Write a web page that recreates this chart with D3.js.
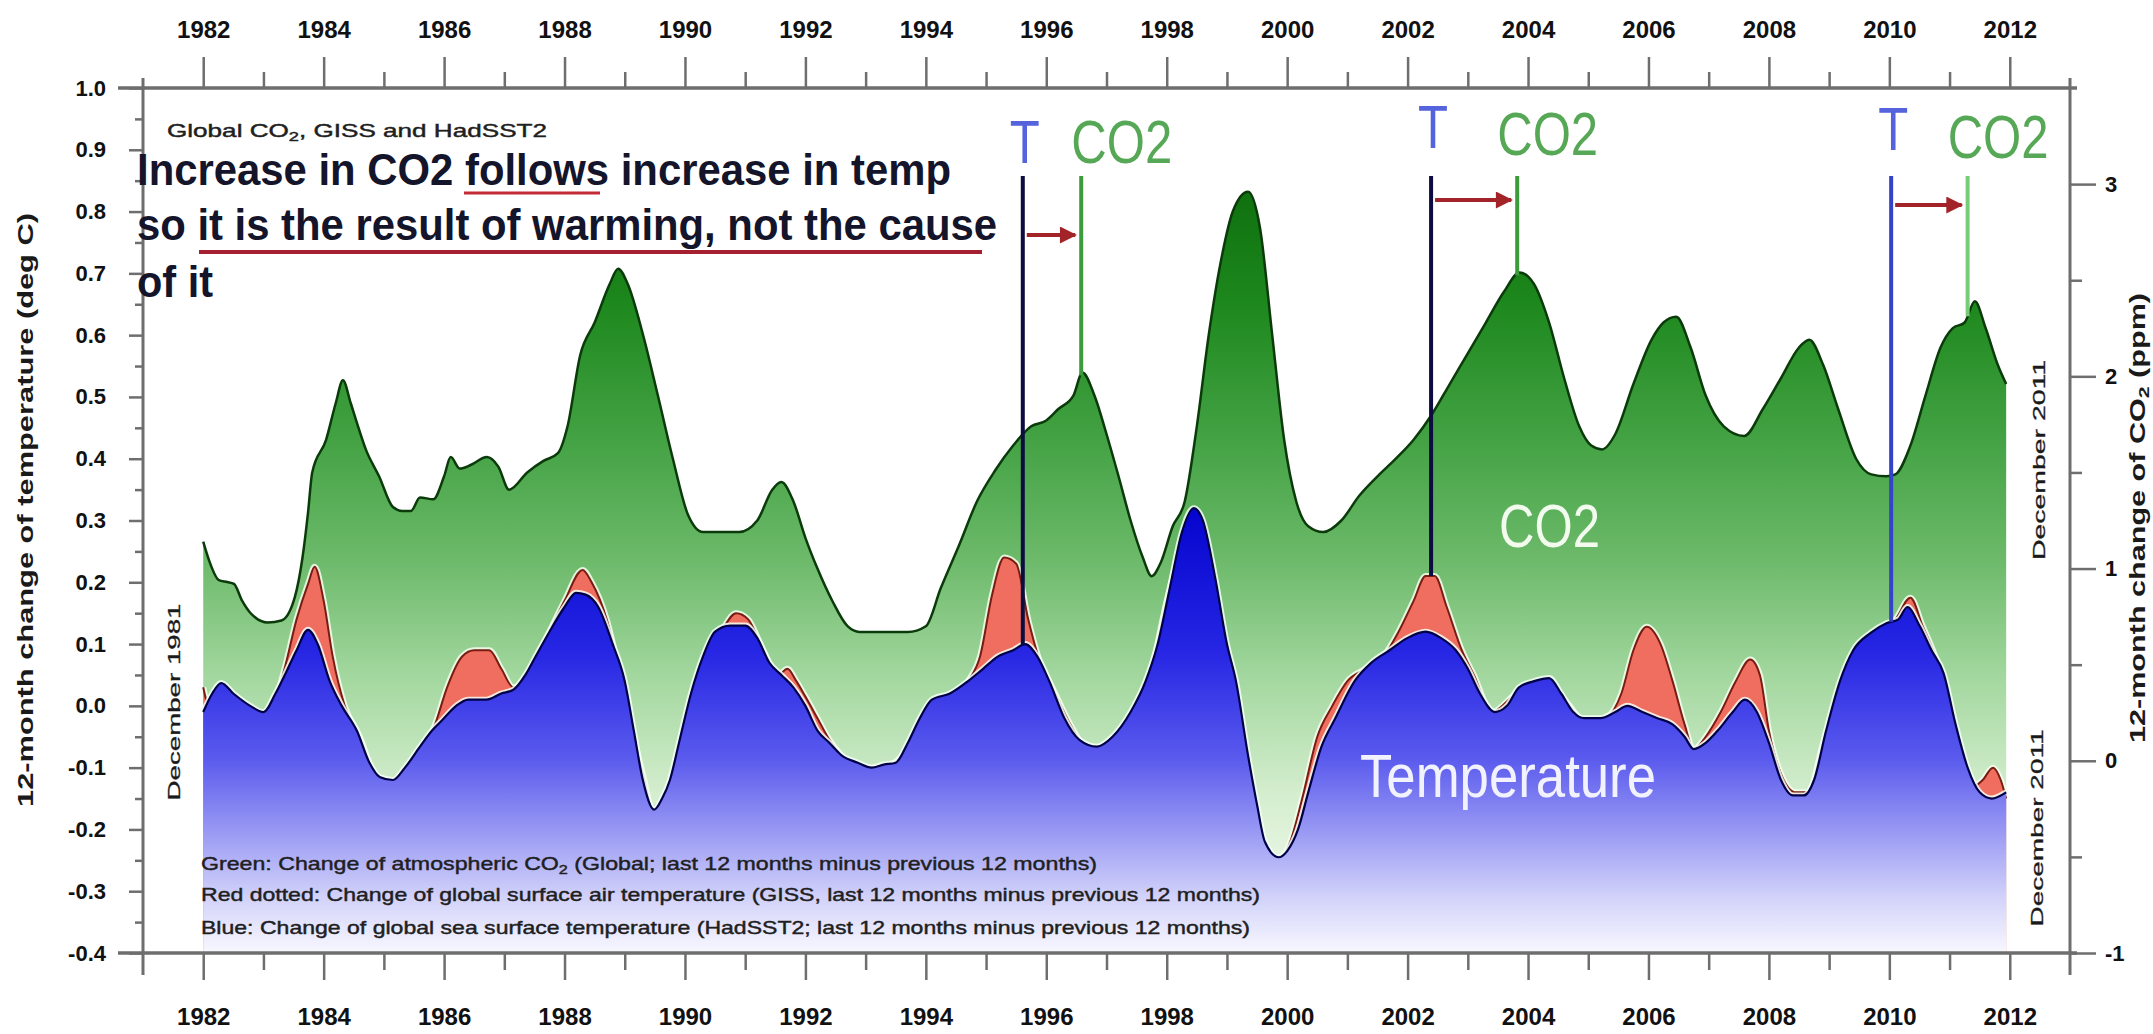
<!DOCTYPE html>
<html><head><meta charset="utf-8">
<script src="https://cdn.jsdelivr.net/npm/d3@7"></script>
<style>
html,body{margin:0;padding:0;background:#fff;}
svg{display:block;}
text{font-family:"Liberation Sans",Arial,sans-serif;}
</style></head><body>
<svg id="chart" width="2153" height="1034"></svg>
<script>
// ---------------- DATA ----------------
const yearTicks = [1982,1984,1986,1988,1990,1992,1994,1996,1998,2000,2002,2004,2006,2008,2010,2012];
const yearMinor = [1983,1985,1987,1989,1991,1993,1995,1997,1999,2001,2003,2005,2007,2009,2011];
const tempTicks = [1.0,0.9,0.8,0.7,0.6,0.5,0.4,0.3,0.2,0.1,0.0,-0.1,-0.2,-0.3,-0.4];
const co2Ticks = [3,2,1,0,-1];

// Green: 12-month change of atmospheric CO2 (ppm), right axis
const co2 = [
[1982.00,1.14],[1982.10,1.04],[1982.26,0.94],[1982.40,0.93],[1982.51,0.92],[1982.65,0.83],[1982.78,0.77],
[1983.07,0.72],[1983.30,0.73],[1983.52,0.85],[1983.65,1.06],[1983.74,1.29],[1983.81,1.50],[1984.04,1.67],
[1984.20,1.86],[1984.32,1.98],[1984.45,1.86],[1984.55,1.76],[1984.70,1.62],[1984.92,1.48],[1985.15,1.32],
[1985.30,1.30],[1985.45,1.30],[1985.60,1.37],[1985.82,1.36],[1986.00,1.48],[1986.11,1.58],[1986.26,1.52],
[1986.45,1.54],[1986.71,1.58],[1986.90,1.53],[1987.08,1.41],[1987.38,1.50],[1987.65,1.56],[1987.89,1.60],
[1988.05,1.74],[1988.26,2.11],[1988.50,2.28],[1988.75,2.48],[1988.89,2.56],[1989.05,2.48],[1989.30,2.22],
[1989.55,1.90],[1989.80,1.57],[1990.05,1.28],[1990.30,1.19],[1990.60,1.19],[1990.90,1.19],[1991.20,1.25],
[1991.45,1.41],[1991.60,1.45],[1991.80,1.35],[1992.00,1.16],[1992.20,1.00],[1992.45,0.83],[1992.70,0.70],
[1992.90,0.67],[1993.30,0.67],[1993.70,0.67],[1994.00,0.70],[1994.25,0.90],[1994.55,1.12],[1994.85,1.35],
[1995.15,1.51],[1995.45,1.64],[1995.75,1.74],[1996.00,1.77],[1996.20,1.83],[1996.45,1.90],[1996.60,2.02],
[1996.80,1.90],[1997.00,1.70],[1997.20,1.48],[1997.40,1.25],[1997.60,1.06],[1997.75,0.96],[1997.90,1.03],
[1998.10,1.22],[1998.30,1.35],[1998.50,1.74],[1998.70,2.22],[1998.90,2.60],[1999.10,2.86],[1999.35,2.96],
[1999.55,2.77],[1999.75,2.22],[1999.95,1.67],[2000.15,1.35],[2000.35,1.22],[2000.60,1.19],[2000.90,1.25],
[2001.20,1.38],[2001.50,1.48],[2001.80,1.57],[2002.10,1.67],[2002.40,1.80],[2002.70,1.96],[2003.00,2.12],
[2003.30,2.28],[2003.60,2.44],[2003.86,2.54],[2004.10,2.48],[2004.35,2.28],[2004.60,1.99],[2004.85,1.74],
[2005.05,1.64],[2005.23,1.62],[2005.45,1.70],[2005.75,1.96],[2006.05,2.19],[2006.25,2.28],[2006.46,2.31],
[2006.70,2.15],[2006.95,1.90],[2007.25,1.74],[2007.59,1.69],[2007.90,1.83],[2008.20,1.99],[2008.50,2.15],
[2008.67,2.19],[2008.90,2.06],[2009.15,1.83],[2009.45,1.57],[2009.70,1.49],[2009.95,1.48],[2010.10,1.49],
[2010.35,1.64],[2010.60,1.90],[2010.85,2.15],[2011.05,2.25],[2011.25,2.28],[2011.42,2.39],[2011.60,2.25],
[2011.80,2.06],[2011.94,1.96]
];

// Red: GISS surface air temperature, 12-month change (deg C), left axis
const giss = [
[1982.00,0.03],[1982.10,0.00],[1982.20,0.01],[1982.50,0.00],[1982.80,-0.02],[1983.10,-0.01],[1983.35,0.06],
[1983.55,0.14],[1983.75,0.20],[1983.85,0.225],[1984.00,0.17],[1984.15,0.08],[1984.35,0.00],[1984.60,-0.05],
[1984.90,-0.12],[1985.20,-0.13],[1985.60,-0.08],[1985.85,-0.03],[1986.05,0.03],[1986.30,0.08],[1986.50,0.09],
[1986.75,0.09],[1986.95,0.06],[1987.15,0.03],[1987.40,0.05],[1987.70,0.11],[1988.00,0.17],[1988.30,0.22],
[1988.45,0.20],[1988.70,0.14],[1988.90,0.06],[1989.10,-0.03],[1989.30,-0.11],[1989.49,-0.175],[1989.65,-0.16],
[1989.85,-0.09],[1990.10,0.01],[1990.35,0.08],[1990.60,0.12],[1990.85,0.15],[1991.05,0.14],[1991.30,0.09],
[1991.55,0.05],[1991.70,0.06],[1991.85,0.04],[1992.00,0.015],[1992.20,-0.02],[1992.40,-0.055],[1992.60,-0.08],
[1992.90,-0.10],[1993.30,-0.10],[1993.70,-0.07],[1994.00,-0.03],[1994.40,0.01],[1994.70,0.04],[1994.90,0.08],
[1995.10,0.18],[1995.30,0.24],[1995.50,0.23],[1995.70,0.14],[1995.90,0.07],[1996.10,0.03],[1996.40,-0.03],
[1996.70,-0.07],[1997.00,-0.06],[1997.40,-0.02],[1997.70,0.04],[1998.00,0.17],[1998.30,0.28],[1998.45,0.31],
[1998.60,0.29],[1998.80,0.19],[1999.00,0.08],[1999.30,-0.08],[1999.60,-0.22],[1999.85,-0.25],[2000.05,-0.22],
[2000.25,-0.15],[2000.50,-0.05],[2000.75,0.00],[2001.00,0.04],[2001.30,0.06],[2001.60,0.08],[2001.85,0.12],
[2002.10,0.17],[2002.30,0.21],[2002.45,0.21],[2002.65,0.16],[2002.90,0.09],[2003.10,0.05],[2003.40,-0.01],
[2003.80,0.02],[2004.20,0.035],[2004.60,0.01],[2005.00,-0.03],[2005.30,-0.02],[2005.55,0.02],[2005.75,0.09],
[2005.97,0.128],[2006.20,0.10],[2006.40,0.04],[2006.60,-0.03],[2006.75,-0.07],[2006.95,-0.05],[2007.20,-0.01],
[2007.45,0.04],[2007.69,0.075],[2007.85,0.05],[2008.00,-0.04],[2008.20,-0.11],[2008.45,-0.14],[2008.65,-0.14],
[2008.90,-0.06],[2009.20,0.03],[2009.50,0.09],[2009.80,0.12],[2010.10,0.14],[2010.35,0.175],[2010.55,0.13],
[2010.80,0.07],[2011.00,0.00],[2011.20,-0.08],[2011.40,-0.13],[2011.55,-0.12],[2011.72,-0.10],[2011.85,-0.12],
[2011.94,-0.15]
];

// Blue: HadSST2 sea surface temperature, 12-month change (deg C), left axis
const hadsst = [
[1982.00,-0.01],[1982.15,0.02],[1982.30,0.037],[1982.50,0.02],[1982.78,0.00],[1983.00,-0.01],[1983.20,0.02],
[1983.37,0.053],[1983.55,0.09],[1983.74,0.123],[1983.90,0.10],[1984.10,0.04],[1984.30,0.00],[1984.55,-0.04],
[1984.75,-0.09],[1984.93,-0.115],[1985.15,-0.12],[1985.35,-0.10],[1985.60,-0.066],[1985.80,-0.04],[1985.97,-0.023],
[1986.20,0.00],[1986.40,0.01],[1986.70,0.01],[1986.95,0.02],[1987.15,0.026],[1987.35,0.05],[1987.52,0.08],
[1987.75,0.12],[1988.00,0.16],[1988.19,0.183],[1988.35,0.18],[1988.56,0.16],[1988.80,0.10],[1989.00,0.04],
[1989.15,-0.04],[1989.30,-0.12],[1989.49,-0.168],[1989.62,-0.15],[1989.75,-0.12],[1989.90,-0.06],[1990.10,0.02],
[1990.30,0.08],[1990.50,0.12],[1990.75,0.13],[1991.00,0.13],[1991.20,0.11],[1991.40,0.07],[1991.60,0.05],
[1991.80,0.03],[1992.00,0.00],[1992.20,-0.04],[1992.40,-0.06],[1992.60,-0.08],[1992.87,-0.092],[1993.10,-0.10],
[1993.30,-0.095],[1993.50,-0.092],[1993.70,-0.06],[1993.90,-0.02],[1994.10,0.01],[1994.40,0.02],[1994.70,0.04],
[1994.95,0.06],[1995.20,0.08],[1995.45,0.09],[1995.65,0.10],[1995.85,0.08],[1996.05,0.04],[1996.30,-0.02],
[1996.55,-0.055],[1996.84,-0.066],[1997.10,-0.05],[1997.40,-0.01],[1997.65,0.04],[1997.85,0.10],[1998.05,0.19],
[1998.25,0.28],[1998.45,0.32],[1998.60,0.30],[1998.80,0.21],[1999.00,0.10],[1999.15,0.04],[1999.35,-0.08],
[1999.50,-0.16],[1999.63,-0.22],[1999.86,-0.245],[2000.00,-0.235],[2000.18,-0.20],[2000.35,-0.14],[2000.57,-0.066],
[2000.80,-0.02],[2001.12,0.04],[2001.40,0.07],[2001.70,0.09],[2002.00,0.11],[2002.30,0.12],[2002.55,0.11],
[2002.80,0.09],[2003.00,0.06],[2003.20,0.02],[2003.45,-0.01],[2003.65,0.00],[2003.85,0.03],[2004.10,0.04],
[2004.35,0.045],[2004.55,0.02],[2004.75,-0.01],[2004.93,-0.02],[2005.20,-0.02],[2005.45,-0.01],[2005.65,0.00],
[2005.90,-0.01],[2006.15,-0.02],[2006.40,-0.03],[2006.60,-0.05],[2006.75,-0.07],[2006.95,-0.06],[2007.15,-0.04],
[2007.40,-0.01],[2007.60,0.01],[2007.80,-0.01],[2008.00,-0.06],[2008.20,-0.12],[2008.40,-0.145],[2008.58,-0.145],
[2008.75,-0.12],[2008.95,-0.04],[2009.18,0.04],[2009.40,0.09],[2009.69,0.118],[2009.96,0.134],[2010.15,0.14],
[2010.30,0.16],[2010.50,0.13],[2010.70,0.09],[2010.90,0.053],[2011.10,-0.03],[2011.30,-0.10],[2011.50,-0.14],
[2011.70,-0.15],[2011.94,-0.14]
];

// Annotation markers: temperature peak year (T) and CO2 peak year
const markerT = [1995.61, 2002.39, 2010.03];
const markerC = [1996.58, 2003.82, 2011.30];
const markerTSeries = ["hadsst", "giss", "hadsst"];

// ---------------- LAYOUT ----------------
const svg = d3.select("#chart");
const x = d3.scaleLinear().domain([1981, 2013]).range([143, 2070]);
const yL = d3.scaleLinear().domain([-0.4, 1.0]).range([953, 88]);
const yR = d3.scaleLinear().domain([-1, 3.5]).range([953, 88]);
const bottomY = yL.range()[0], topY = yL.range()[1];
const leftX = x.range()[0], rightX = x.range()[1];

const defs = svg.append("defs");
function grad(id, y1, y2, stops){
  const g = defs.append("linearGradient").attr("id", id)
    .attr("gradientUnits","userSpaceOnUse").attr("x1",0).attr("x2",0).attr("y1",y1).attr("y2",y2);
  stops.forEach(s => g.append("stop").attr("offset", s[0]).attr("stop-color", s[1]));
}
grad("gGreen", 170, 953, [[0,"#0c6c0c"],[0.17,"#1d881d"],[0.35,"#45a345"],[0.5,"#6dba6b"],[0.65,"#a4d8a0"],[0.8,"#d5eecf"],[0.92,"#eef8ea"],[1,"#ffffff"]]);
grad("gBlue", 490, 953, [[0,"#0000cc"],[0.35,"#2626e4"],[0.58,"#5a5aee"],[0.74,"#9a9af4"],[0.88,"#d2d2fa"],[1,"#f8f8ff"]]);
defs.append("marker").attr("id","arrow").attr("viewBox","0 0 10 10").attr("refX",9).attr("refY",5)
  .attr("markerUnits","userSpaceOnUse").attr("markerWidth",20).attr("markerHeight",17).attr("orient","auto")
  .append("path").attr("d","M0,0 L10,5 L0,10 z").attr("fill","#a32428");

const curve = d3.curveMonotoneX;
const areaR = d3.area().x(d=>x(d[0])).y0(bottomY).y1(d=>yR(d[1])).curve(curve);
const lineR = d3.line().x(d=>x(d[0])).y(d=>yR(d[1])).curve(curve);
const areaL = d3.area().x(d=>x(d[0])).y0(bottomY).y1(d=>yL(d[1])).curve(curve);
const lineL = d3.line().x(d=>x(d[0])).y(d=>yL(d[1])).curve(curve);

// CO2 area
svg.append("path").attr("d", areaR(co2)).attr("fill","url(#gGreen)");
svg.append("path").attr("d", lineR(co2)).attr("fill","none").attr("stroke","#0b3a0b").attr("stroke-width",2.5);
// GISS
svg.append("path").attr("d", lineL(giss)).attr("fill","none").attr("stroke","#f4fff0").attr("stroke-width",6).attr("opacity",0.85);
svg.append("path").attr("d", areaL(giss)).attr("fill","#f06e60");
svg.append("path").attr("d", lineL(giss)).attr("fill","none").attr("stroke","#7a1c12").attr("stroke-width",2);
// HadSST2
svg.append("path").attr("d", lineL(hadsst)).attr("fill","none").attr("stroke","#f4fff4").attr("stroke-width",6).attr("opacity",0.85);
svg.append("path").attr("d", areaL(hadsst)).attr("fill","url(#gBlue)");
svg.append("path").attr("d", lineL(hadsst)).attr("fill","none").attr("stroke","#000048").attr("stroke-width",2.2);

// ---------------- AXES ----------------
const axisColor = "#6e6e6e";
function styleAxis(g){ g.select(".domain").remove(); g.selectAll(".tick line").attr("stroke",axisColor).attr("stroke-width",2.5); }
svg.append("line").attr("x1",leftX-25).attr("x2",rightX+7).attr("y1",topY).attr("y2",topY).attr("stroke",axisColor).attr("stroke-width",3.5);
svg.append("line").attr("x1",leftX-25).attr("x2",rightX+7).attr("y1",bottomY).attr("y2",bottomY).attr("stroke",axisColor).attr("stroke-width",3.5);
svg.append("line").attr("x1",leftX).attr("x2",leftX).attr("y1",topY-10).attr("y2",bottomY+22).attr("stroke",axisColor).attr("stroke-width",3);
svg.append("line").attr("x1",rightX).attr("x2",rightX).attr("y1",topY-10).attr("y2",bottomY+22).attr("stroke",axisColor).attr("stroke-width",3);

const lbl = g => g.selectAll("text").attr("fill","#111").attr("font-weight","bold").attr("font-family","Liberation Sans, Arial, sans-serif");
svg.append("g").attr("transform",`translate(0,${topY})`)
  .call(d3.axisTop(x).tickValues(yearTicks).tickSize(31).tickPadding(19).tickFormat(d3.format("d")))
  .call(styleAxis).call(lbl).call(g=>g.selectAll("text").attr("font-size",24));
svg.append("g").attr("transform",`translate(0,${topY})`)
  .call(d3.axisTop(x).tickValues(yearMinor).tickSize(16).tickFormat(""))
  .call(styleAxis);
svg.append("g").attr("transform",`translate(0,${bottomY})`)
  .call(d3.axisBottom(x).tickValues(yearTicks).tickSize(27).tickFormat(d3.format("d")))
  .call(styleAxis).call(lbl).call(g=>g.selectAll("text").attr("font-size",24).attr("y",72).attr("dy",null));
svg.append("g").attr("transform",`translate(0,${bottomY})`)
  .call(d3.axisBottom(x).tickValues(yearMinor).tickSize(17).tickFormat(""))
  .call(styleAxis);
svg.append("g").attr("transform",`translate(${leftX},0)`)
  .call(d3.axisLeft(yL).tickValues(tempTicks).tickSize(14).tickPadding(23).tickFormat(v=>v.toFixed(1)))
  .call(styleAxis).call(lbl).call(g=>g.selectAll("text").attr("font-size",22));
svg.append("g").attr("transform",`translate(${leftX},0)`)
  .call(d3.axisLeft(yL).tickValues(tempTicks.slice(0,-1).map(v=>v-0.05)).tickSize(8).tickFormat(""))
  .call(styleAxis);
svg.append("g").attr("transform",`translate(${rightX},0)`)
  .call(d3.axisRight(yR).tickValues(co2Ticks).tickSize(26).tickPadding(9).tickFormat(v=>String(v)))
  .call(styleAxis).call(lbl).call(g=>g.selectAll("text").attr("font-size",22));
svg.append("g").attr("transform",`translate(${rightX},0)`)
  .call(d3.axisRight(yR).tickValues(co2Ticks.slice(1).map(v=>v+0.5)).tickSize(12).tickFormat(""))
  .call(styleAxis);

// axis titles
function rotText(cx, cy, size, weight, len, parts){
  const t = svg.append("text").attr("transform",`translate(${cx},${cy}) rotate(-90)`)
    .attr("text-anchor","middle").attr("font-size",size).attr("font-weight",weight).attr("fill","#1a1a1a")
    .attr("textLength",len).attr("lengthAdjust","spacingAndGlyphs");
  parts.forEach(p => { const s = t.append("tspan").text(p[0]); if(p[1]) s.attr("font-size",size*0.7).attr("dy",4); else if(p[2]) s.attr("dy",-4); });
  return t;
}
rotText(33, 510, 22, "bold", 594, [["12-month change of temperature (deg C)"]]);
rotText(2145, 518, 22, "bold", 450, [["12-month change of CO"],["2",true],[" (ppm)",false,true]]);
rotText(180, 702, 17, "normal", 197, [["December 1981"]]).attr("stroke","#1a1a1a").attr("stroke-width",0.3);
rotText(2045, 460, 17, "normal", 200, [["December 2011"]]).attr("stroke","#1a1a1a").attr("stroke-width",0.3);
rotText(2043, 828, 17, "normal", 197, [["December 2011"]]).attr("stroke","#1a1a1a").attr("stroke-width",0.3);

// ---------------- ANNOTATIONS ----------------
function txt(xp, yp, size, weight, fill, len, parts){
  const t = svg.append("text").attr("x",xp).attr("y",yp).attr("font-size",size).attr("font-weight",weight)
    .attr("fill",fill).attr("textLength",len).attr("lengthAdjust","spacingAndGlyphs");
  parts.forEach(p => { const s = t.append("tspan").text(p[0]); if(p[1]) s.attr("font-size",size*0.7).attr("dy",4); else if(p[2]) s.attr("dy",-4); });
  return t;
}
const thin = t => t.attr("stroke","#1f1f1f").attr("stroke-width",0.45);
thin(txt(167, 137, 19, "normal", "#1f1f1f", 380, [["Global CO"],["2",true],[", GISS and HadSST2",false,true]]));
thin(txt(201, 870, 19, "normal", "#1f1f1f", 896, [["Green: Change of atmospheric CO"],["2",true],[" (Global; last 12 months minus previous 12 months)",false,true]]));
thin(txt(201, 901, 19, "normal", "#1f1f1f", 1059, [["Red dotted: Change of global surface air temperature (GISS, last 12 months minus previous 12 months)"]]));
thin(txt(201, 934, 19, "normal", "#1f1f1f", 1049, [["Blue: Change of global sea surface temperature (HadSST2; last 12 months minus previous 12 months)"]]));

// headline
const headCol = "#14142a";
txt(137, 185, 45, "bold", headCol, 814, [["Increase in CO2 follows increase in temp"]]);
txt(137, 240, 45, "bold", headCol, 860, [["so it is the result of warming, not the cause"]]);
txt(137, 297, 45, "bold", headCol, 76, [["of it"]]);
svg.append("line").attr("x1",464).attr("x2",600).attr("y1",193).attr("y2",193).attr("stroke","#c22a35").attr("stroke-width",3);
svg.append("line").attr("x1",199).attr("x2",982).attr("y1",252).attr("y2",252).attr("stroke","#a51f30").attr("stroke-width",4);

// marker lines
function valAt(arr, t){
  const i = d3.bisector(d=>d[0]).left(arr, t);
  if(i<=0) return arr[0][1]; if(i>=arr.length) return arr[arr.length-1][1];
  const a = arr[i-1], b = arr[i];
  return a[1] + (b[1]-a[1])*(t-a[0])/(b[0]-a[0]);
}
const seriesMap = {giss, hadsst};
const tColors = ["#0c0c40","#0c0c40","#3344c8"];
const cColors = ["#3c9c3c","#3c9c3c","#78cc78"];
const tLabelBase = [163,148,150];
const cLabelBase = [163,155,158];
const arrowY = [235,200,205];
markerT.forEach((t,i) => {
  const c = markerC[i];
  svg.append("line").attr("x1",x(t)).attr("x2",x(t)).attr("y1",176).attr("y2",yL(valAt(seriesMap[markerTSeries[i]], t)))
    .attr("stroke",tColors[i]).attr("stroke-width",4);
  svg.append("line").attr("x1",x(c)).attr("x2",x(c)).attr("y1",176).attr("y2",yR(valAt(co2, c)))
    .attr("stroke",cColors[i]).attr("stroke-width",4);
  svg.append("line").attr("x1",x(t)+4).attr("x2",x(c)-6).attr("y1",arrowY[i]).attr("y2",arrowY[i])
    .attr("stroke","#a32428").attr("stroke-width",4).attr("marker-end","url(#arrow)");
  svg.append("text").attr("x",x(t)+2).attr("y",tLabelBase[i]).attr("text-anchor","middle")
    .attr("font-size",62).attr("fill","#5564dc").attr("textLength",30).attr("lengthAdjust","spacingAndGlyphs").text("T");
  svg.append("text").attr("x",x(c)-(i===0?10:20)).attr("y",cLabelBase[i])
    .attr("font-size",62).attr("fill","#56a856").attr("textLength",101).attr("lengthAdjust","spacingAndGlyphs").text("CO2");
});

// big series labels
txt(1499, 547, 62, "normal", "#f2fbee", 101, [["CO2"]]);
txt(1360, 797, 62, "normal", "#f2f2ff", 296, [["Temperature"]]);
</script>
</body></html>
